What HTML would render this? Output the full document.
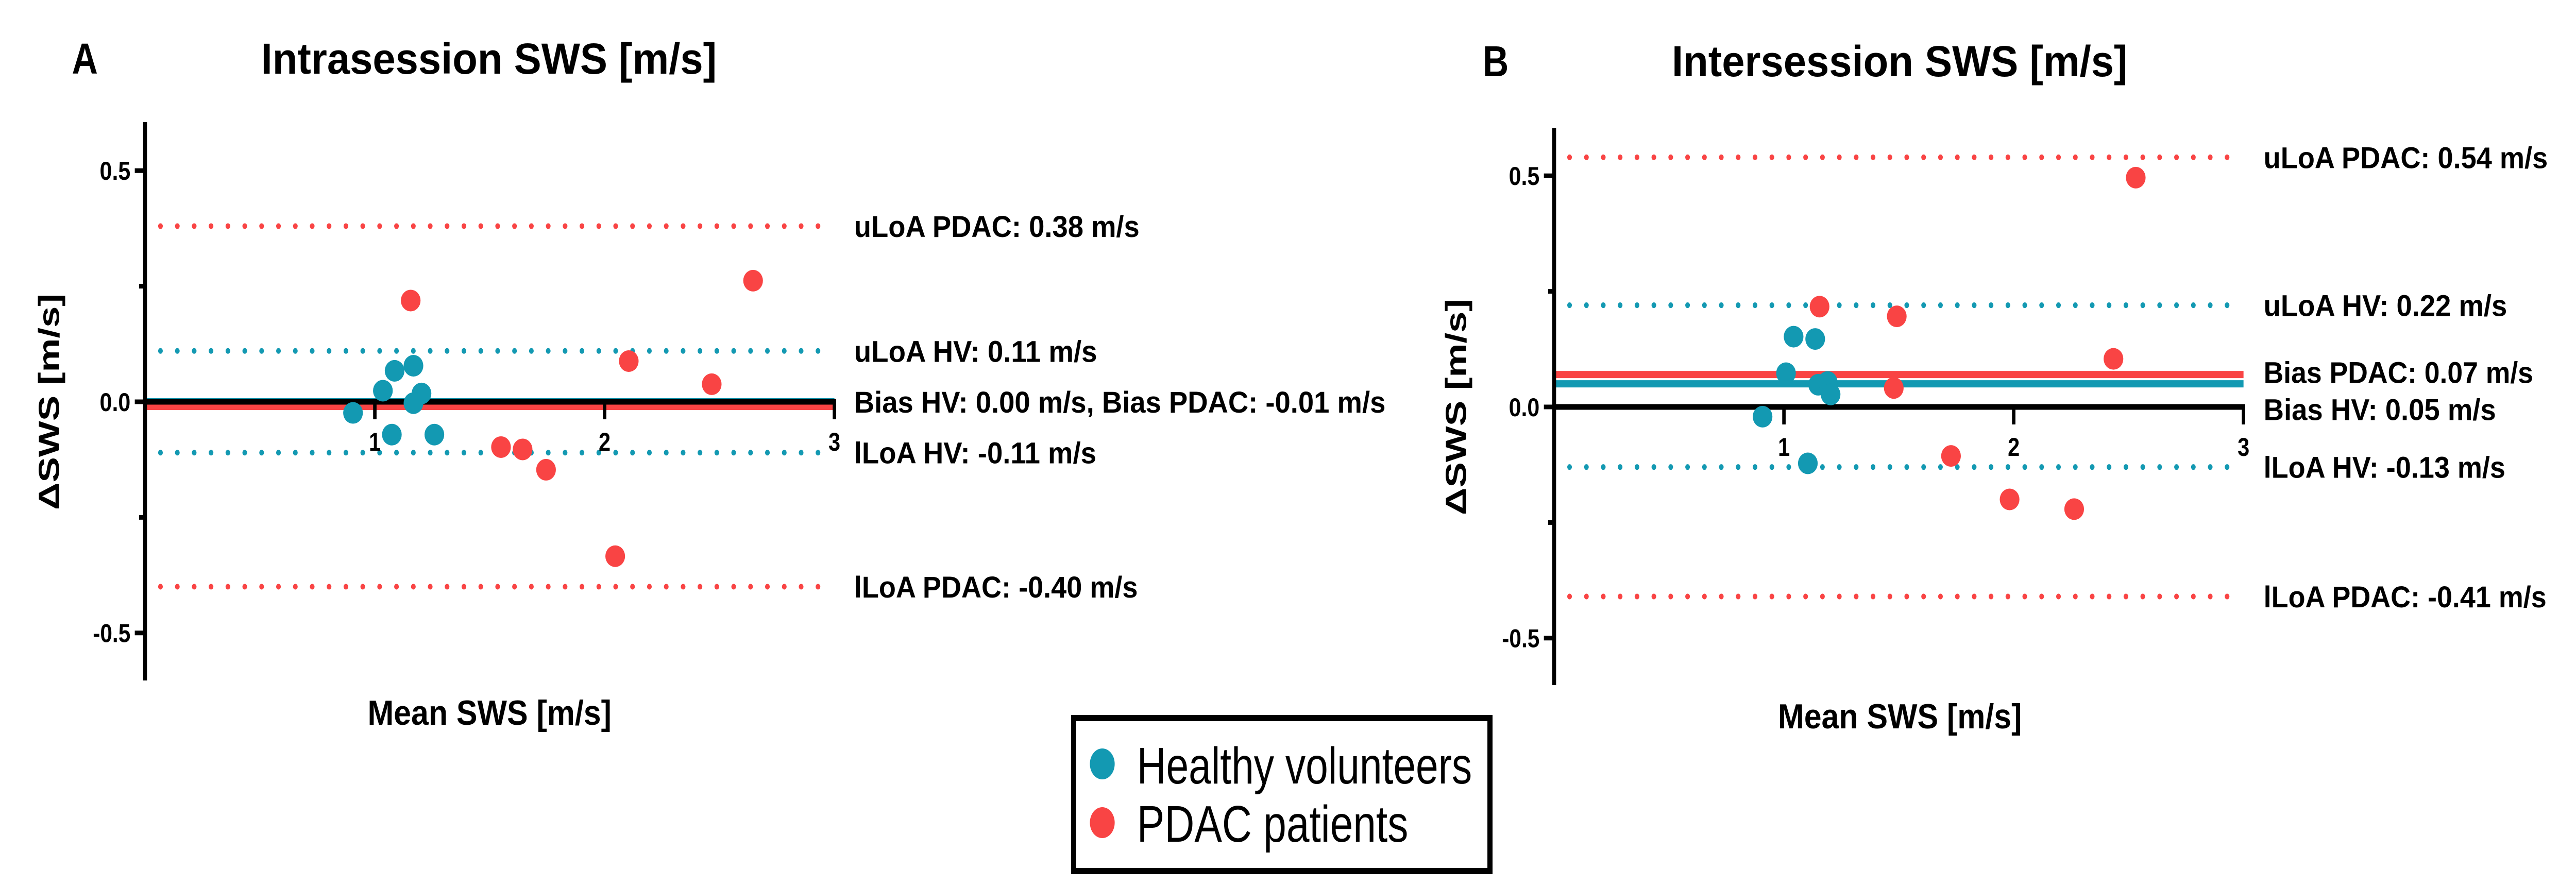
<!DOCTYPE html>
<html><head><meta charset="utf-8"><style>
html,body{margin:0;padding:0;background:#fff;width:100%;height:100%;overflow:hidden;}
svg{display:block;font-family:"Liberation Sans",sans-serif;width:100vw;height:100vh;}
</style></head><body>
<svg id="fig" viewBox="0 0 6020 1720" preserveAspectRatio="none" xmlns="http://www.w3.org/2000/svg">
<g>
<rect x="2509" y="1394" width="973" height="297" fill="#fff" stroke="#000" stroke-width="12"/>
<ellipse cx="2576" cy="1483" rx="29" ry="30" fill="#1399b2"/>
<text x="2657" y="1521" font-size="100" textLength="783" lengthAdjust="spacingAndGlyphs">Healthy volunteers</text>
<ellipse cx="2576" cy="1597" rx="29" ry="30" fill="#f94444"/>
<text x="2657" y="1634" font-size="100" textLength="634" lengthAdjust="spacingAndGlyphs">PDAC patients</text>
</g>
</svg>
<script>
// Panel A data
const aHvX = [0.905,1.035,1.086,1.168,1.203,1.168,1.074,1.259];
const aHvY = [-0.024,0.024,0.067,0.078,0.018,-0.003,-0.071,-0.071];
const aPdX = [1.156,2.646,2.105,2.466,1.549,1.643,1.745,2.046];
const aPdY = [0.219,0.262,0.088,0.038,-0.098,-0.103,-0.147,-0.334];
const aBiasHv = 0.00, aBiasPd = -0.01;
const aLoaHv = [0.11,-0.11];
const aLoaPd = [0.38,-0.40];
const aLabels = ["uLoA PDAC: 0.38 m/s","uLoA HV: 0.11 m/s","Bias HV: 0.00 m/s, Bias PDAC: -0.01 m/s","lLoA HV: -0.11 m/s","lLoA PDAC: -0.40 m/s"];
const aLabelVals = [0.38,0.11,0.0,-0.11,-0.40];
// Panel B data
const bHvX = [0.907,1.009,1.042,1.136,1.149,1.190,1.203,1.104];
const bHvY = [-0.021,0.073,0.152,0.147,0.048,0.054,0.027,-0.122];
const bPdX = [1.155,1.491,1.478,2.434,2.531,1.727,1.982,2.263];
const bPdY = [0.217,0.196,0.041,0.104,0.496,-0.106,-0.200,-0.221];
const bBiasHv = 0.05, bBiasPd = 0.07;
const bLoaHv = [0.22,-0.13];
const bLoaPd = [0.54,-0.41];
const bLabels = ["uLoA PDAC: 0.54 m/s","uLoA HV: 0.22 m/s","Bias PDAC: 0.07 m/s","Bias HV: 0.05 m/s","lLoA HV: -0.13 m/s","lLoA PDAC: -0.41 m/s"];
const bLabelVals = [0.54,0.22,0.075,-0.005,-0.13,-0.41];
const yTicks = [0.5,0.0,-0.5];
const yTickLabels = ["0.5","0.0","-0.5"];
const yMinorTicks = [0.25,-0.25];
const xTicks = [1,2,3];
const xTickLabels = ["1","2","3"];

const NS="http://www.w3.org/2000/svg";
const svg=document.getElementById('fig');
const TEAL="#1399b2", RED="#f94444";
function mk(tag,attrs,parent,text){const e=document.createElementNS(NS,tag);for(const k in attrs)e.setAttribute(k,attrs[k]);if(text!==undefined)e.textContent=text;(parent||svg).appendChild(e);return e;}

function panel(o){
  const g=mk('g',{});
  
  
  const X=v=>o.x0+v*537, Y=v=>o.y0-v*897.5;
  const t1=mk('text',{x:o.letterX,y:o.titleY,'font-size':84,'font-weight':'bold'},g,o.letter);
  
  
  const t2=mk('text',{x:o.titleX,y:o.titleY,'font-size':84,'font-weight':'bold',textLength:1065,lengthAdjust:'spacingAndGlyphs'},g,o.title);
  
  
  [[o.loaPd,RED],[o.loaHv,TEAL]].forEach(([arr,c])=>arr.forEach(v=>{
    const l=mk('line',{x1:o.dotX0,x2:X(3),y1:Y(v),y2:Y(v),stroke:c,'stroke-width':11,'stroke-linecap':'round','stroke-dasharray':'0 39.4'},g);
    
    
  }));
  const bh=mk('line',{x1:X(0),x2:X(3),y1:Y(o.biasHv),y2:Y(o.biasHv),stroke:TEAL,'stroke-width':14},g);
  
  
  const bp=mk('line',{x1:X(0),x2:X(3),y1:Y(o.biasPd),y2:Y(o.biasPd),stroke:RED,'stroke-width':14},g);
  
  
  const xa=mk('line',{x1:X(0),x2:X(3)+4,y1:Y(0),y2:Y(0),stroke:'#000','stroke-width':11},g);
  
  
  xTicks.forEach((v,i)=>{
    const tk=mk('line',{x1:X(v),x2:X(v),y1:Y(0),y2:Y(0)+34,stroke:'#000','stroke-width':8},g);
    
    
    const tl=mk('text',{x:X(v),y:Y(0)+95,'font-size':50,'font-weight':'bold','text-anchor':'middle'},g,xTickLabels[i]);
    
    
  });
  const ya=mk('line',{x1:X(0),x2:X(0),y1:o.axTop,y2:o.axBot,stroke:'#000','stroke-width':9},g);
  
  
  yTicks.forEach((v,i)=>{
    const tk=mk('line',{x1:X(0)-24,x2:X(0),y1:Y(v),y2:Y(v),stroke:'#000','stroke-width':9},g);
    
    
    const tl=mk('text',{x:X(0)-34,y:Y(v)+18,'font-size':50,'font-weight':'bold','text-anchor':'end',textLength:v<0?88:72,lengthAdjust:'spacingAndGlyphs'},g,yTickLabels[i]);
    
    
  });
  yMinorTicks.forEach(v=>{
    const tk=mk('line',{x1:X(0)-14,x2:X(0),y1:Y(v),y2:Y(v),stroke:'#000','stroke-width':9},g);
    
    
  });
  const yt=mk('text',{x:0,y:0,'font-size':68,'font-weight':'bold','text-anchor':'middle',textLength:420,lengthAdjust:'spacingAndGlyphs',transform:`translate(${o.yTitleX},${o.y0}) rotate(-90)`},g,'ΔSWS [m/s]');
  
  
  const xt=mk('text',{x:o.xTitleX,y:o.xTitleY,'font-size':68,'font-weight':'bold',textLength:570,lengthAdjust:'spacingAndGlyphs'},g,'Mean SWS [m/s]');
  
  
  o.hvX.forEach((v,i)=>{
    const c=mk('ellipse',{cx:X(v),cy:Y(o.hvY[i]),rx:23,ry:21,fill:TEAL},g);
    
    
  });
  o.pdX.forEach((v,i)=>{
    const c=mk('ellipse',{cx:X(v),cy:Y(o.pdY[i]),rx:23,ry:21,fill:RED},g);
    
    
  });
  o.labels.forEach((s,i)=>{
    const t=mk('text',{x:o.labelX,y:Y(o.labelVals[i])+21,'font-size':58,'font-weight':'bold',textLength:o.labelW[i],lengthAdjust:'spacingAndGlyphs'},g,s);
    
    
  });
}
panel({name:'panel-a-intrasession',letter:'A',letterX:168,title:'Intrasession SWS [m/s]',titleX:610,titleY:143,
  x0:339,y0:780,axTop:237,axBot:1321,dotX0:375,yTitleX:138,xTitleX:859,xTitleY:1407,labelX:1996,
  hvX:aHvX,hvY:aHvY,pdX:aPdX,pdY:aPdY,biasHv:aBiasHv,biasPd:aBiasPd,loaHv:aLoaHv,loaPd:aLoaPd,
  labels:aLabels,labelVals:aLabelVals,labelW:[667,568,1242,566,663]});
panel({name:'panel-b-intersession',letter:'B',letterX:3465,title:'Intersession SWS [m/s]',titleX:3907,titleY:148,
  x0:3632,y0:790,axTop:249,axBot:1330,dotX0:3668,yTitleX:3426,xTitleX:4155,xTitleY:1414,labelX:5290,
  hvX:bHvX,hvY:bHvY,pdX:bPdX,pdY:bPdY,biasHv:bBiasHv,biasPd:bBiasPd,loaHv:bLoaHv,loaPd:bLoaPd,
  labels:bLabels,labelVals:bLabelVals,labelW:[664,569,630,543,565,661]});
</script>
</body></html>
